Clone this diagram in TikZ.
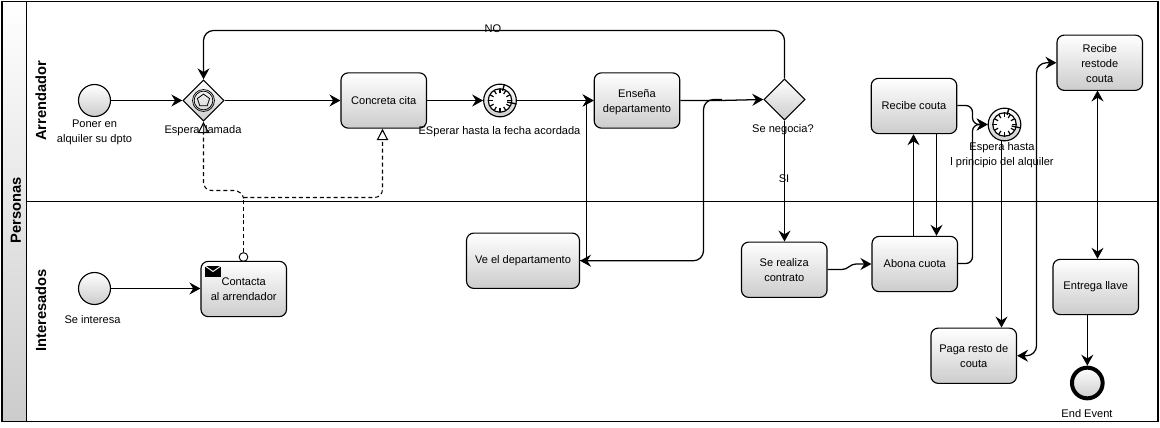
\documentclass[tikz,border=0pt]{standalone}
\usepackage{fontspec}
\setmainfont{Liberation Sans}
\usetikzlibrary{arrows.meta,shapes.geometric,calc}
\tikzset{
  flow/.style={line width=0.95pt,rounded corners=7.5pt,-{Stealth[length=8.2pt,width=9pt,inset=2.8pt]}},
  both/.style={flow,{Stealth[length=8.2pt,width=9pt,inset=2.8pt]}-{Stealth[length=8.2pt,width=9pt,inset=2.8pt]}},
  msg/.style={line width=0.8pt,dashed,dash pattern=on 3pt off 2.2pt,rounded corners=6pt},
  msgend/.style={msg,-{Triangle[open,fill=white,length=8.5pt,width=8.5pt]}},
  grad/.style={top color=white,bottom color=black!20,draw=black,line width=0.85pt},
  task/.style={grad,rectangle,rounded corners=5.5pt,align=center,inner sep=0pt,font=\fontsize{8.3}{11.25}\selectfont,minimum width=64.2pt,minimum height=41.5pt},
  startev/.style={grad,circle,inner sep=0pt,minimum size=24pt},
  endev/.style={grad,circle,inner sep=0pt,minimum size=23pt,line width=3pt},
  gate/.style={grad,diamond,aspect=1,inner sep=0pt,minimum size=31pt},
  timer/.style={grad,circle,inner sep=0pt,minimum size=24.5pt},
  lbl/.style={align=center,inner sep=0pt,font=\fontsize{8.3}{11.25}\selectfont},
  lane/.style={rotate=90,inner sep=0pt,font=\fontsize{11}{12}\selectfont\bfseries},
}
\newcommand{\clockface}[1]{%
  \fill[white,draw=black,line width=0.9pt] (#1) circle (8.8pt);
  \foreach \a in {0,30,...,330} \draw[line width=0.9pt] ($(#1)+(\a:5.6pt)$) -- ($(#1)+(\a:8.4pt)$);
  \draw[line width=1pt] ($(#1)+(75:7.5pt)$) -- (#1) -- ($(#1)+(-12:5.5pt)$);
}
\begin{document}
\begin{tikzpicture}[x=0.75pt,y=-0.75pt]
\useasboundingbox (0,0) rectangle (1160,428);
% pool
\node[draw=none,inner sep=0,outer sep=0,minimum width=18.6pt,minimum height=315pt,top color=white,bottom color=black!20] (hdr) at (14,211) {};
\draw[line width=0.95pt] (2,1.5) rectangle (1158,421.5);
\draw[line width=0.95pt] (26.5,1.5) coordinate (hN) -- (26.5,421.5) coordinate (hS);
\coordinate (laneL) at (26.5,201.5);
\coordinate (laneR) at (1158,201.5);
\draw[line width=0.95pt] (laneL) -- (laneR);
\node[lane] (tPers) at (16,210.5) {Personas};
\node[lane] (tArr) at (41,101) {Arrendador};
\node[lane] (tInt) at (41,310.5) {Interesados};
% nodes
\node[startev] (s1) at (94.5,100.5) {};
\node[gate] (g1) at (203.5,100.5) {};
\node[task] (cita) at (383.75,100.5) {Concreta cita};
\node[timer] (t1) at (500,100.5) {};
\node[task] (ens) at (637,100.5) {\rule{0pt}{8.2pt}Enseña\\departamento};
\node[gate] (g2) at (784.5,99.5) {};
\node[task,minimum width=84.75pt] (ve) at (523,260.75) {Ve el departamento};
\node[task] (real) at (784.25,269.75) {Se realiza\\contrato};
\node[task] (abona) at (914.75,264) {Abona cuota};
\node[task] (rec) at (914,106) {Recibe couta};
\node[timer] (t2) at (1004.5,124.5) {};
\node[task] (resto) at (1099.75,62.75) {\rule{0pt}{7.4pt}Recibe\\restode\\couta};
\node[task] (llave) at (1095.75,287) {Entrega llave};
\node[task] (paga) at (973.75,355.75) {Paga resto de\\couta};
\node[endev] (fin) at (1087.3,383) {};
\node[startev] (s2) at (94.5,288.5) {};
\node[task] (cont) at (243.75,289) {Contacta\\al arrendador};
% gateway marker
\draw[line width=0.55pt] (g1) circle (8.2pt);
\draw[line width=0.55pt] (g1) circle (7pt);
\node[regular polygon,regular polygon sides=5,draw=black,line width=0.6pt,inner sep=0,minimum size=9.6pt] (pent) at (g1) {};
% timers
\clockface{t1}
\clockface{t2}
% envelope
\node[fill=black,inner sep=0,minimum width=12pt,minimum height=8.3pt] (env) at (213,271.5) {};
\draw[white,line width=0.7pt] (env.north west) -- (env.center) -- (env.north east);
% flows
\draw[flow] (s1) -- (g1.west);
\draw[flow] (g1.east) -- (cita.west);
\draw[flow] (cita.east) -- (t1.west);
\draw[flow] (t1.east) -- (ens.west);
\coordinate (k1) at (720,100.5);
\draw[flow,rounded corners=0pt] (ens.east) -- (k1) -- (g2.west);
\coordinate (k0) at (722,99.5);
\coordinate (k2) at (703.5,99.5);
\coordinate (k3) at (703.5,260.75);
\draw[flow] (k0) -- (k2) -- (k3) -- (ve.east);
\coordinate (k4) at (586.5,260.75);
\coordinate (k5) at (586.5,100.5);
\draw[flow,rounded corners=0pt] (ve.east) -- (k4) -- (k5) -- (ens.west);
\coordinate (k6) at (784.5,30.5);
\coordinate (k7) at (203.5,30.5);
\draw[flow] (g2.north) -- (k6) -- (k7) -- (g1.north);
\node[lbl] (no) at (493,29) {NO};
\draw[flow] (g2.south) -- (g2.south |- real.north);
\node[lbl] (si) at (784,179) {SI};
\coordinate (w1) at (846,269.5);
\coordinate (w2) at (852,264);
\draw[flow,rounded corners=3pt] (real.east |- w1) -- (w1) -- (w2) -- (abona.west);
\draw[flow] (913.5,236.5) coordinate (a1) -- (a1 |- rec.south);
\draw[flow] (936.5,133.5) coordinate (a2) -- (a2 |- abona.north);
\coordinate (b1) at (972.5,105.5);
\coordinate (b2) at (972.5,124.5);
\draw[flow,rounded corners=5pt] (rec.east |- b1) -- (b1) -- (b2) -- (t2.west);
\coordinate (c1) at (972.5,263.5);
\draw[flow,rounded corners=5pt] (abona.east |- c1) -- (c1) -- (b2) -- (t2.west);
\draw[flow] (1001.5,140) coordinate (d1) -- (d1 |- paga.north);
\coordinate (e1) at (1036.5,355.75);
\coordinate (e2) at (1036.5,62.75);
\draw[both] (paga.east) -- (e1) -- (e2) -- (resto.west);
\draw[both] (1097.5,90.5) coordinate (f1) -- (f1 |- llave.north);
\draw[flow] (1087.3,314.5) coordinate (h1) -- (fin.north);
\draw[flow] (s2) -- (s2 -| cont.west);
% message flows
\node[circle,draw=black,fill=white,line width=0.7pt,inner sep=0,minimum size=6.5pt] (dot) at (243.5,257) {};
\coordinate (m1) at (243.5,197.5);
\coordinate (m2) at (382.5,197.5);
\coordinate (m3) at (242,190.5);
\coordinate (m4) at (203.5,190.5);
\draw[msg,rounded corners=0pt] (dot.north) -- (m1);
\draw[msgend] (m1) -- (m2) -- (cita.south -| m2);
\draw[msgend] (m1) -- (m3) -- (m4) -- (g1.south);
% labels
\node[lbl] (l1) at (94.5,132.5) {Poner en\\alquiler su dpto};
\node[lbl] (l2) at (203,131) {Espera llamada};
\node[lbl] (l3) at (499.5,132) {ESperar hasta la fecha acordada};
\node[lbl] (l4) at (783,130) {Se negocia?};
\node[lbl] (l5) at (1002,155.5) {Espera hasta\\l principio del alquiler};
\node[lbl] (l6) at (92.5,320) {Se interesa};
\node[lbl] (l7) at (1087,414) {End Event};
\end{tikzpicture}
\end{document}
